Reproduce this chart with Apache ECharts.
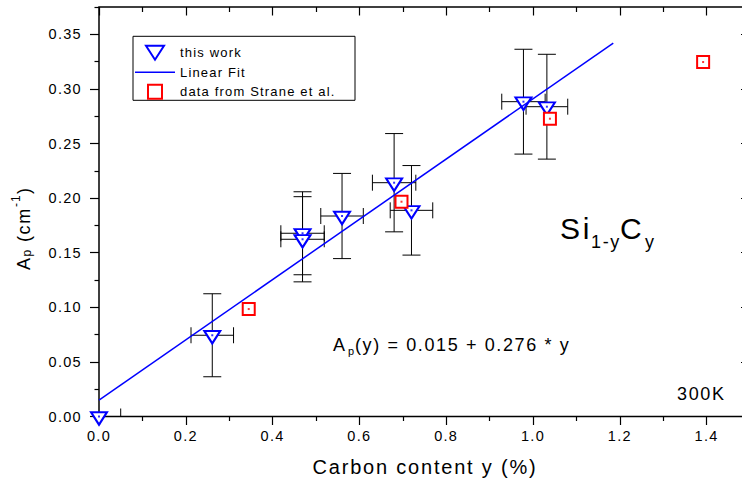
<!DOCTYPE html>
<html>
<head>
<meta charset="utf-8">
<script src="https://cdn.jsdelivr.net/npm/echarts@6/dist/echarts.min.js"></script>
<style>
html, body { margin: 0; padding: 0; background: #fff; }
#chart { width: 742px; height: 481px; }
/* Origin draws its text a bit wider than plain Arial */
#chart text { letter-spacing: 0.09em; }
</style>
</head>
<body>
<div id="chart"></div>
<script>
// this work (with error bars)
var workX    = [0, 0.261, 0.469, 0.469, 0.560, 0.680, 0.720, 0.978, 1.032];
var workY    = [0, 0.0744, 0.1678, 0.1623, 0.1836, 0.2141, 0.1888, 0.2883, 0.2837];
var workXErr = [0.05, 0.049, 0.05, 0.05, 0.049, 0.05, 0.049, 0.05, 0.048];
var workYErr = [0, 0.038, 0.038, 0.039, 0.039, 0.045, 0.041, 0.048, 0.048];

// data from Strane et al.
var straneX = [0.345, 0.697, 1.039, 1.392];
var straneY = [0.0984, 0.1967, 0.2727, 0.3246];

// linear fit end points
var fitX = [0, 1.185];
var fitY = [0.015, 0.342];

var legendNames = ['this work', 'Linear Fit', 'data from Strane et al.'];

var FONT = '"Liberation Sans", Arial, sans-serif';

var chart = echarts.init(document.getElementById('chart'), null, {renderer: 'svg'});

function pairs(xs, ys) {
    return xs.map(function (x, i) { return [x, ys[i]]; });
}

var errRows = workX.map(function (x, i) {
    return [x, workY[i], workXErr[i], workYErr[i]];
});

function renderErr(params, api) {
    var x = api.value(0), y = api.value(1), ex = api.value(2), ey = api.value(3);
    var st = {stroke: '#000', lineWidth: 1};
    var kids = [];
    function seg(a, b) {
        return {type: 'line', shape: {x1: a[0], y1: a[1], x2: b[0], y2: b[1]}, style: st};
    }
    if (ey > 0) {
        var t = api.coord([x, y + ey]), b = api.coord([x, y - ey]);
        kids.push(seg(t, b));
        kids.push(seg([t[0] - 9, t[1]], [t[0] + 9, t[1]]));
        kids.push(seg([b[0] - 9, b[1]], [b[0] + 9, b[1]]));
    }
    if (ex > 0) {
        var l = api.coord([x - ex, y]), r = api.coord([x + ex, y]);
        kids.push(seg(l, r));
        kids.push(seg([l[0], l[1] - 8], [l[0], l[1] + 8]));
        kids.push(seg([r[0], r[1] - 8], [r[0], r[1] + 8]));
    }
    return {type: 'group', children: kids};
}

function txt(s, x, y, size) {
    return {
        type: 'text', x: x, y: y, silent: true,
        style: {text: s, font: size + 'px ' + FONT, fill: '#000', textAlign: 'left', textVerticalAlign: 'middle'}
    };
}

var tickStyle = {color: '#000', width: 1.2};

option = {
    animation: false,
    backgroundColor: '#fff',
    grid: [
        // data grid, stretched past the frame so the last ticks fall outside the picture
        {left: 99, right: -51.4, top: -20.3, bottom: 64.5, containLabel: false, outerBoundsMode: 'none'},
        // frame
        {left: 99, right: -8, top: 7, bottom: 64.5, containLabel: false, outerBoundsMode: 'none',
         show: true, borderColor: '#000', borderWidth: 1.5, backgroundColor: 'transparent'}
    ],
    xAxis: [{
        gridIndex: 0, type: 'value', position: 'bottom', min: 0, max: 1.6, interval: 0.2,
        axisLine: {show: false, onZero: false},
        axisTick: {show: true, inside: false, length: 8.5, lineStyle: tickStyle},
        minorTick: {show: true, splitNumber: 2, length: 4.5, lineStyle: tickStyle},
        splitLine: {show: false},
        axisLabel: {
            color: '#000', fontSize: 14.5, fontFamily: FONT, margin: 12, showMaxLabel: false,
            formatter: function (v) { return v.toFixed(1); }
        }
    }, {
        gridIndex: 0, type: 'value', position: 'top', offset: -27.3, min: 0, max: 1.6, interval: 0.2,
        axisLine: {show: false, onZero: false},
        axisTick: {show: true, inside: true, length: 8.5, lineStyle: tickStyle},
        minorTick: {show: true, splitNumber: 2, length: 5, lineStyle: tickStyle},
        splitLine: {show: false},
        axisLabel: {show: false}
    }, {
        gridIndex: 1, type: 'value', show: false, min: 0, max: 1
    }],
    yAxis: [{
        gridIndex: 0, type: 'value', position: 'left', min: 0, max: 0.4, interval: 0.05,
        axisLine: {show: false, onZero: false},
        axisTick: {show: true, inside: false, length: 9, lineStyle: tickStyle},
        minorTick: {show: true, splitNumber: 2, length: 4.5, lineStyle: tickStyle},
        splitLine: {show: false},
        axisLabel: {
            color: '#000', fontSize: 14.5, fontFamily: FONT, margin: 17, showMaxLabel: false,
            formatter: function (v) { return v.toFixed(2); }
        }
    }, {
        gridIndex: 0, type: 'value', position: 'right', offset: -43.4, min: 0, max: 0.4, interval: 0.05,
        axisLine: {show: false, onZero: false},
        axisTick: {show: true, inside: true, length: 9, lineStyle: tickStyle},
        minorTick: {show: true, splitNumber: 2, length: 4.5, lineStyle: tickStyle},
        splitLine: {show: false},
        axisLabel: {show: false}
    }, {
        gridIndex: 1, type: 'value', show: false, min: 0, max: 1
    }],
    legend: {
        data: [
            legendNames[0],
            // plain blue stroke, no marker
            {name: legendNames[1], icon: 'path://M0,0L40,0L40,1.5L0,1.5Z', itemStyle: {color: '#0000ff', borderWidth: 0}},
            // small square instead of the stretched rect
            {name: legendNames[2], icon: 'path://M0,0L10,0L10,10L0,10Z'}
        ],
        orient: 'vertical',
        left: 135, top: 44.7, padding: 0,
        itemWidth: 40, itemHeight: 14, itemGap: 4.5,
        selectedMode: false,
        textStyle: {color: '#000', fontSize: 13, fontFamily: FONT, lineHeight: 14}
    },
    series: [{
        type: 'custom',
        name: 'error bars',
        xAxisIndex: 0, yAxisIndex: 0,
        data: errRows,
        encode: {x: 0, y: 1},
        renderItem: renderErr,
        clip: true,
        silent: true,
        z: 2
    }, {
        type: 'scatter',
        name: 'this work',
        data: pairs(workX, workY),
        symbol: 'path://M0,0L18,0L9,14Z',
        symbolSize: [16, 12.5],
        symbolOffset: [0, 2],
        itemStyle: {color: '#fff', borderColor: '#0000ff', borderWidth: 2, opacity: 1},
        silent: true,
        z: 3
    }, {
        type: 'scatter',
        name: 'data from Strane et al.',
        data: pairs(straneX, straneY),
        symbol: 'rect',
        symbolSize: 12,
        itemStyle: {color: '#fff', borderColor: '#ff0000', borderWidth: 2, opacity: 1},
        silent: true,
        z: 3
    }, {
        type: 'line',
        name: 'Linear Fit',
        data: pairs(fitX, fitY),
        symbol: 'none',
        lineStyle: {color: '#0000ff', width: 1.5},
        itemStyle: {color: '#0000ff'},
        silent: true,
        z: 4
    }, {
        // centre dots of the markers
        type: 'scatter', name: 'dot1',
        data: pairs(workX, workY),
        symbol: 'rect', symbolSize: 2,
        itemStyle: {color: '#0000ff'}, silent: true, z: 5
    }, {
        type: 'scatter', name: 'dot2',
        data: pairs(straneX, straneY),
        symbol: 'rect', symbolSize: 2,
        itemStyle: {color: '#ff0000'}, silent: true, z: 5
    }],
    graphic: [
        {type: 'rect', shape: {x: 133, y: 36.3, width: 222, height: 64},
         style: {fill: 'none', stroke: '#000', lineWidth: 1}, silent: true},
        // y axis title, reads bottom to top
        {type: 'group', x: 23.7, y: 229, rotation: Math.PI / 2, children: [
            txt('A', -41, 0, 18),
            txt('p', -27.4, 3.1, 12),
            txt('(cm', -13, 0, 18),
            txt('-1', 22, -7.9, 12),
            txt(')', 34.9, 0, 18)
        ]},
        // x axis title
        {type: 'text', x: 425, y: 466.5, silent: true,
         style: {text: 'Carbon content y (%)', font: '20px ' + FONT, fill: '#000',
                 textAlign: 'center', textVerticalAlign: 'middle'}},
        // fit equation
        txt('A', 333, 345.4, 18),
        txt('p', 348, 351.4, 11),
        txt('(y) = 0.015 + 0.276 * y', 355, 345.4, 18),
        // material
        txt('Si', 560, 228.8, 30),
        txt('1-y', 591, 242.2, 18),
        txt('C', 620, 228.8, 30),
        txt('y', 645, 242.2, 18),
        // temperature
        txt('300K', 677, 394.4, 18)
    ]
};

chart.setOption(option);
</script>
</body>
</html>
